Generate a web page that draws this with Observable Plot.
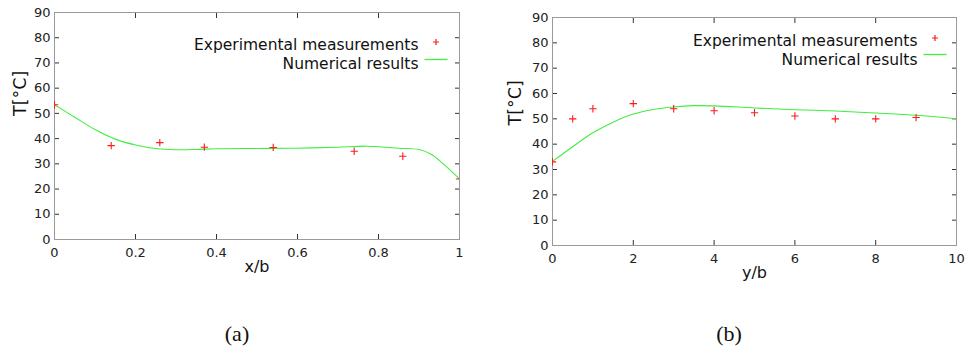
<!DOCTYPE html>
<html><head><meta charset="utf-8">
<script src="https://cdn.jsdelivr.net/npm/d3@7"></script>
<script src="https://cdn.jsdelivr.net/npm/@observablehq/plot@0.6"></script>
<style>
body{margin:0;background:#fff;}
#wrap{position:relative;width:969px;height:354px;overflow:hidden;background:#fff;font-family:"DejaVu Sans",sans-serif;}
.panel{position:absolute;top:0;}
.cap{position:absolute;font-family:"Liberation Serif",serif;font-size:22px;color:#111;transform:translate(-50%,-50%);line-height:1;}
</style></head><body><div id="wrap"></div>
<script>
// Panel (a): temperature along x/b
const expXa = [0, 0.14, 0.26, 0.37, 0.54, 0.74, 0.86, 1.0];
const expTa = [53.4, 37.2, 38.4, 36.6, 36.5, 35.0, 33.0, 24.0];
const numXa = [0, 0.05, 0.1, 0.15, 0.2, 0.25, 0.3, 0.35, 0.4, 0.5, 0.6, 0.7, 0.77, 0.85, 0.9, 0.93, 0.96, 1.0];
const numTa = [53.4, 48.5, 43.6, 39.8, 37.5, 36.1, 35.6, 35.7, 36.0, 36.1, 36.2, 36.6, 37.0, 36.2, 35.7, 33.8, 30.0, 24.0];
// Panel (b): temperature along y/b
const expXb = [0, 0.5, 1, 2, 3, 4, 5, 6, 7, 8, 9];
const expTb = [33.0, 50.0, 54.0, 56.0, 54.0, 53.2, 52.4, 51.1, 50.0, 50.0, 50.5];
const numXb = [0, 0.5, 1, 1.5, 2, 2.5, 3, 3.5, 4, 5, 6, 7, 8, 9, 10];
const numTb = [33.2, 39.0, 44.5, 48.7, 51.9, 53.7, 54.7, 55.2, 55.1, 54.3, 53.6, 53.1, 52.3, 51.4, 50.0];

const yTicks = [0, 10, 20, 30, 40, 50, 60, 70, 80, 90];
const xTicksA = [0, 0.2, 0.4, 0.6, 0.8, 1];
const xTicksB = [0, 2, 4, 6, 8, 10];
const legendLabels = ["Experimental measurements", "Numerical results"];
const yLabel = "T[°C]";
const captions = ["(a)", "(b)"];

const RED = "#ff1a1a", GREEN = "#3fee3f", FRAME = "#9a9a9a", TICK = "#333";
const lineSym = {draw(ctx) { ctx.moveTo(-11.5, 0); ctx.lineTo(11.5, 0); }};
const plusSym = {draw(ctx) { ctx.moveTo(-3, 0); ctx.lineTo(3, 0); ctx.moveTo(0, -3); ctx.lineTo(0, 3); }};
const fmt = d => String(d);

function panel(o) {
  const exp = o.ex.map((x, i) => ({x, t: o.et[i]}));
  const num = o.nx.map((x, i) => ({x, t: o.nt[i]}));
  return Plot.plot({
    width: o.width, height: 290,
    marginLeft: o.ml, marginRight: o.mr, marginTop: o.mt, marginBottom: o.mb,
    style: {fontFamily: "DejaVu Sans, sans-serif", background: "white", color: "#222"},
    x: {domain: o.xdom, ticks: o.xticks},
    y: {domain: [0, 90], ticks: yTicks},
    marks: [
      Plot.axisX(o.xticks, {anchor: "bottom", tickSize: -5, tickPadding: 13, fontSize: 13, tickFormat: fmt, stroke: TICK, label: null, fill: "#222"}),
      Plot.axisX(o.xticks, {anchor: "top", tickSize: -5, tickFormat: () => "", label: null, stroke: TICK}),
      Plot.axisY(yTicks, {anchor: "left", tickSize: -5, tickPadding: 9, fontSize: 13, tickFormat: fmt, stroke: TICK, label: null, fill: "#222"}),
      Plot.axisY(yTicks, {anchor: "right", tickSize: -5, tickFormat: () => "", label: null, stroke: TICK}),
      Plot.frame({stroke: FRAME}),
      Plot.line(num, {x: "x", y: "t", stroke: GREEN, strokeWidth: 1.1, curve: "catmull-rom", clip: true}),
      Plot.dot(exp, {x: "x", y: "t", symbol: "plus", r: 2.5, stroke: RED, strokeWidth: 1.1, clip: true}),
      Plot.text([o.xlabel], {text: d => d, frameAnchor: "bottom", dy: o.xlDy, fontSize: 16, fill: "#111"}),
      Plot.text([yLabel], {text: d => d, frameAnchor: "left", dx: o.ylDx, dy: o.ylDy, rotate: -90, fontSize: 17.5, fill: "#111"}),
      Plot.text([legendLabels[0]], {text: d => d, frameAnchor: "top-right", textAnchor: "end", dx: o.lg.tdx, dy: o.lg.t1, fontSize: 15.5, fill: "#111"}),
      Plot.text([legendLabels[1]], {text: d => d, frameAnchor: "top-right", textAnchor: "end", dx: o.lg.tdx, dy: o.lg.t2, fontSize: 15.5, fill: "#111"}),
      Plot.dot([legendLabels[0]], {frameAnchor: "top-right", dx: o.lg.sdx, dy: o.lg.s1, symbol: plusSym, r: 2, stroke: RED, fill: "none", strokeWidth: 1.2}),
      Plot.dot([legendLabels[1]], {frameAnchor: "top-right", dx: o.lg.sdx, dy: o.lg.s2, symbol: lineSym, r: 3, stroke: GREEN, fill: "none", strokeWidth: 1.3})
    ]
  });
}

const wrap = document.getElementById("wrap");
const a = panel({width: 480, ml: 54, mr: 21, mt: 12, mb: 51, xdom: [0, 1], xticks: xTicksA,
  ex: expXa, et: expTa, nx: numXa, nt: numTa, xlabel: "x/b", xlDy: 32, ylDx: -34, ylDy: -10,
  lg: {tdx: -41, t1: 26, t2: 45, sdx: -23.5, s1: 29.5, s2: 47}});
a.classList.add("panel"); a.style.left = "0px";
const b = panel({width: 479, ml: 62, mr: 13, mt: 17, mb: 45, xdom: [0, 10], xticks: xTicksB,
  ex: expXb, et: expTb, nx: numXb, nt: numTb, xlabel: "y/b", xlDy: 32, ylDx: -37, ylDy: -6,
  lg: {tdx: -39, t1: 17, t2: 36, sdx: -21.5, s1: 20.5, s2: 37}});
b.classList.add("panel"); b.style.left = "490px";
wrap.appendChild(a); wrap.appendChild(b);
[[captions[0], 237], [captions[1], 729]].forEach(([t, x]) => {
  const d = document.createElement("div");
  d.className = "cap"; d.textContent = t; d.style.left = x + "px"; d.style.top = "334px";
  wrap.appendChild(d);
});
</script>
</body></html>
